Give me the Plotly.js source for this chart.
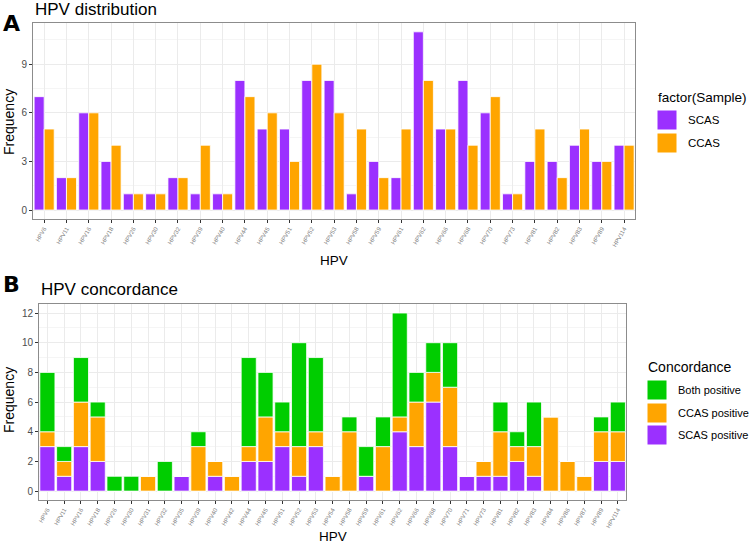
<!DOCTYPE html>
<html><head><meta charset="utf-8">
<script src="https://cdn.plot.ly/plotly-3.0.1.min.js"></script>
<style>html,body{margin:0;padding:0;background:#fff}#chart{width:750px;height:546px}</style>
</head><body><div id="chart"></div>
<script>
// Panel A: HPV distribution
const catsA = ["HPV6","HPV11","HPV16","HPV18","HPV26","HPV30","HPV32","HPV39","HPV40","HPV44","HPV45","HPV51","HPV52","HPV53","HPV58","HPV59","HPV61","HPV62","HPV66","HPV68","HPV70","HPV73","HPV81","HPV82","HPV83","HPV89","HPV114"];
const scasA = [7,2,6,3,1,1,2,1,1,8,5,5,8,8,1,3,2,11,5,8,6,1,3,3,4,3,4];
const ccasA = [5,2,6,4,1,1,2,4,1,7,6,3,9,6,5,2,5,8,5,4,7,1,5,2,5,3,4];
const seriesA = ["SCAS","CCAS"];
// Panel B: HPV concordance
const catsB = ["HPV6","HPV11","HPV16","HPV18","HPV26","HPV30","HPV31","HPV32","HPV35","HPV39","HPV40","HPV42","HPV44","HPV45","HPV51","HPV52","HPV53","HPV54","HPV58","HPV59","HPV61","HPV62","HPV66","HPV68","HPV70","HPV71","HPV73","HPV81","HPV82","HPV83","HPV84","HPV86","HPV87","HPV89","HPV114"];
const scasPos = [3,1,3,2,0,0,0,0,1,0,1,0,2,2,3,1,3,0,0,1,0,4,3,6,3,1,1,1,2,1,0,0,0,2,2];
const ccasPos = [1,1,3,3,0,0,1,0,0,3,1,1,1,3,1,2,1,1,4,0,3,1,3,2,4,0,1,3,1,2,5,2,1,2,2];
const bothPos = [4,1,3,1,1,1,0,2,0,1,0,0,6,3,2,7,5,0,1,2,2,7,2,2,3,0,0,2,1,3,0,0,0,1,2];
const seriesB = ["Both positive","CCAS positive","SCAS positive"];

const PURPLE = "#9B30FF", ORANGE = "#FFA500", GREEN = "#00CD00";
const line = {color:"#ffffff", width:0.8};

const baseCcas = scasPos.slice();
const baseBoth = scasPos.map((v,i)=>v+ccasPos[i]);

const traces = [
  {type:"bar", x:catsA, y:scasA, name:seriesA[0], marker:{color:PURPLE, line}, xaxis:"x", yaxis:"y", offsetgroup:"a1"},
  {type:"bar", x:catsA, y:ccasA, name:seriesA[1], marker:{color:ORANGE, line}, xaxis:"x", yaxis:"y", offsetgroup:"a2"},
  {type:"bar", x:catsB, y:scasPos, name:seriesB[2], marker:{color:PURPLE, line}, xaxis:"x2", yaxis:"y2", offsetgroup:"b"},
  {type:"bar", x:catsB, y:ccasPos, base:baseCcas, name:seriesB[1], marker:{color:ORANGE, line}, xaxis:"x2", yaxis:"y2", offsetgroup:"b"},
  {type:"bar", x:catsB, y:bothPos, base:baseBoth, name:seriesB[0], marker:{color:GREEN, line}, xaxis:"x2", yaxis:"y2", offsetgroup:"b"}
];

const FONT = "Liberation Sans, Arial, sans-serif";
const xcommon = {
  type:"category", showgrid:true, gridcolor:"#EBEBEB", gridwidth:1,
  ticks:"outside", ticklen:3, tickcolor:"#333333", tickwidth:1,
  tickangle:-60, tickfont:{size:6, color:"#7F7F7F", family:FONT},
  showline:true, linecolor:"#8C8C8C", linewidth:1, mirror:true, zeroline:false,
  automargin:false
};
const ycommon = {
  showgrid:true, gridcolor:"#EBEBEB", gridwidth:1,
  ticks:"outside", ticklen:3, tickcolor:"#333333", tickwidth:1,
  tickfont:{size:10, color:"#4D4D4D", family:FONT},
  showline:true, linecolor:"#8C8C8C", linewidth:1, mirror:true, zeroline:false,
  automargin:false
};

// Manual legends (ggplot-style large keys)
const H = 546, W = 750;
const px = v => v / W, py = v => 1 - v / H;
const shapes = [];
const legendAnn = [];
function legendBlock(title, names, colors, left, titleY, keyTops, keySize, textX, titleSize, labelSize) {
  legendAnn.push({text:title, xref:"paper", yref:"paper", x:px(left), y:py(titleY), xanchor:"left", yanchor:"middle",
    showarrow:false, font:{size:titleSize, color:"#000"}});
  names.forEach((n,i)=>{
    shapes.push({type:"rect", xref:"paper", yref:"paper", x0:px(left+1), x1:px(left+1+keySize),
      y0:py(keyTops[i]), y1:py(keyTops[i]+keySize), fillcolor:colors[i], line:{color:"#ffffff", width:1}});
    legendAnn.push({text:n, xref:"paper", yref:"paper", x:px(textX), y:py(keyTops[i]+keySize/2), xanchor:"left", yanchor:"middle",
      showarrow:false, font:{size:labelSize, color:"#000"}});
  });
}
legendBlock("factor(Sample)", seriesA, [PURPLE, ORANGE], 656, 97, [110,133], 20, 686, 13.5, 11.5);
legendBlock("Concordance", seriesB, [GREEN, ORANGE, PURPLE], 646, 367, [380,403,425], 20, 676, 14, 11);

const layout = {
  width:W, height:H,
  margin:{l:0,r:0,t:0,b:0},
  paper_bgcolor:"#ffffff", plot_bgcolor:"#ffffff",
  font:{family:FONT, color:"#000000"},
  barmode:"group", bargap:0.1, bargroupgap:0,
  showlegend:false,
  xaxis:Object.assign({}, xcommon, {domain:[0.044,0.847], anchor:"y", range:[-0.5, catsA.length-0.5]}),
  yaxis:Object.assign({}, ycommon, {domain:[0.599,0.958], anchor:"x", range:[-0.55,11.55], tickvals:[0,3,6,9],
    minor:{tickvals:[1.5,4.5,7.5,10.5], showgrid:true, gridcolor:"#F5F5F5", ticks:""}}),
  xaxis2:Object.assign({}, xcommon, {domain:[0.052,0.835], anchor:"y2", range:[-0.5, catsB.length-0.5]}),
  yaxis2:Object.assign({}, ycommon, {domain:[0.0842,0.443], anchor:"x2", range:[-0.6,12.6], tickvals:[0,2,4,6,8,10,12],
    minor:{tickvals:[1,3,5,7,9,11], showgrid:true, gridcolor:"#F5F5F5", ticks:""}}),
  shapes:shapes,
  annotations:[
    {text:"HPV distribution", xref:"paper", yref:"paper", x:0.044, y:py(9), xanchor:"left", yanchor:"middle", showarrow:false, font:{size:17, color:"#000"}},
    {text:"<b>A</b>", xref:"paper", yref:"paper", x:px(1), y:py(24), xanchor:"left", yanchor:"middle", showarrow:false, font:{size:22, color:"#000", family:"DejaVu Sans"}},
    {text:"HPV concordance", xref:"paper", yref:"paper", x:px(39), y:py(289), xanchor:"left", yanchor:"middle", showarrow:false, font:{size:17, color:"#000"}},
    {text:"<b>B</b>", xref:"paper", yref:"paper", x:px(1), y:py(284), xanchor:"left", yanchor:"middle", showarrow:false, font:{size:22, color:"#000", family:"DejaVu Sans"}},
    {text:"HPV", xref:"paper", yref:"paper", x:px(334), y:py(260), xanchor:"center", yanchor:"middle", showarrow:false, font:{size:13.5, color:"#000"}},
    {text:"HPV", xref:"paper", yref:"paper", x:px(333), y:py(536), xanchor:"center", yanchor:"middle", showarrow:false, font:{size:13.5, color:"#000"}},
    {text:"Frequency", xref:"paper", yref:"paper", x:px(9), y:py(122), xanchor:"center", yanchor:"middle", textangle:-90, showarrow:false, font:{size:14, color:"#000"}},
    {text:"Frequency", xref:"paper", yref:"paper", x:px(9), y:py(400), xanchor:"center", yanchor:"middle", textangle:-90, showarrow:false, font:{size:14, color:"#000"}}
  ].concat(legendAnn)
};

Plotly.newPlot("chart", traces, layout, {displayModeBar:false, staticPlot:true});
</script></body></html>
